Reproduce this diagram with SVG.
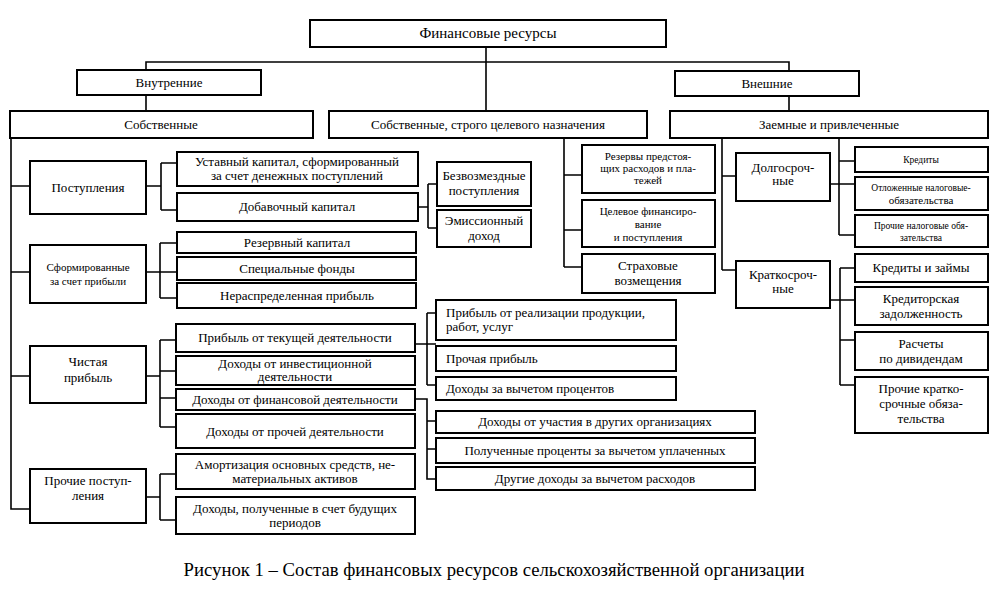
<svg xmlns="http://www.w3.org/2000/svg" width="1000" height="604" viewBox="0 0 1000 604" font-family="'Liberation Serif','Times New Roman',serif">
<style>
.b{fill:#fff;stroke:#000;stroke-width:2}
.c{fill:none;stroke:#000;stroke-width:1.6}
text{font-family:"Liberation Serif","Times New Roman",serif;fill:#000;text-anchor:middle}
.t{font-size:13px}
.s{font-size:11px}
.x{font-size:9.5px}
.l{text-anchor:start}
</style>
<rect width="1000" height="604" fill="#fff"/>
<g id="connectors">
<path class="c" d="M486,47V111M146,70V62H789V71M146,95V111M789,96V111"/>
<path class="c" d="M11,138V509H30M11,186H30M11,272H30M11,376H30"/>
<path class="c" d="M146,186H161M161,163V210M161,163H177M161,210H177"/>
<path class="c" d="M146,272H177M160,243V298M160,243H177M160,298H177"/>
<path class="c" d="M146,376H160M160,340V427M160,340H176M160,371H176M160,398H176M160,427H176"/>
<path class="c" d="M146,497H160M160,474V520M160,474H176M160,520H176"/>
<path class="c" d="M418,207H428M428,184V228M428,184H437M428,228H437"/>
<path class="c" d="M564,138V267M564,175H582M564,230H582M564,267H582"/>
<path class="c" d="M722,138V270M722,176H736M722,270H736"/>
<path class="c" d="M839,138V235M839,161H855M839,235H855M830,184H855"/>
<path class="c" d="M830,300H855M840,268V385M840,268H855M840,340H855M840,385H855"/>
<path class="c" d="M415,344H436M427,313V385M427,313H436M427,385H436"/>
<path class="c" d="M415,399H427V479H436M427,421H436M427,449H436"/>
</g>
<g id="fin"><rect class="b" x="310" y="20" width="356" height="27"/><text x="488" y="38" style="font-size:15px">Финансовые ресурсы</text></g>
<g id="vnutr"><rect class="b" x="77" y="70" width="184" height="25"/><text class="t" x="169" y="87">Внутренние</text></g>
<g id="vnesh"><rect class="b" x="675" y="71" width="184" height="25"/><text class="t" x="767" y="88">Внешние</text></g>
<g id="sobst"><rect class="b" x="10" y="111" width="303" height="27"/><text class="t" x="161" y="129">Собственные</text></g>
<g id="sobst2"><rect class="b" x="329" y="111" width="318" height="27"/><text class="t" x="488" y="129">Собственные, строго целевого назначения</text></g>
<g id="zaem"><rect class="b" x="670" y="111" width="318" height="27"/><text class="t" x="829" y="129">Заемные и привлеченные</text></g>

<g id="postup"><rect class="b" x="30" y="161" width="116" height="53"/><text class="t" x="88" y="192">Поступления</text></g>
<g id="sform"><rect class="b" x="30" y="245" width="116" height="58"/><text class="s" x="88" y="271">Сформированные</text><text class="s" x="88" y="285">за счет прибыли</text></g>
<g id="chist"><rect class="b" x="30" y="346" width="116" height="57"/><text class="t" x="88" y="366">Чистая</text><text class="t" x="88" y="382">прибыль</text></g>
<g id="proch"><rect class="b" x="30" y="469" width="116" height="54"/><text class="t" x="88" y="485">Прочие поступ-</text><text class="t" x="88" y="500">ления</text></g>

<g id="ustav"><rect class="b" x="177" y="152" width="241" height="34"/><text class="t" x="297" y="166">Уставный капитал, сформированный</text><text class="t" x="297" y="180">за счет денежных поступлений</text></g>
<g id="dobav"><rect class="b" x="177" y="193" width="241" height="28"/><text class="t" x="297" y="211">Добавочный капитал</text></g>
<g id="rezerv"><rect class="b" x="177" y="232" width="239" height="21"/><text class="t" x="297" y="247">Резервный капитал</text></g>
<g id="spec"><rect class="b" x="177" y="257" width="239" height="23"/><text class="t" x="297" y="273">Специальные фонды</text></g>
<g id="neraspr"><rect class="b" x="177" y="283" width="239" height="25"/><text class="t" x="297" y="300">Нераспределенная прибыль</text></g>

<g id="pribtek"><rect class="b" x="176" y="324" width="239" height="28"/><text class="t" x="295" y="342">Прибыль от текущей деятельности</text></g>
<g id="dinv"><rect class="b" x="176" y="356" width="239" height="29"/><text class="t" x="295" y="368">Доходы от инвестиционной</text><text class="t" x="295" y="381">деятельности</text></g>
<g id="dfin"><rect class="b" x="176" y="389" width="239" height="21"/><text class="t" x="295" y="404">Доходы от финансовой деятельности</text></g>
<g id="dproch"><rect class="b" x="176" y="414" width="239" height="34"/><text class="t" x="295" y="436">Доходы от прочей деятельности</text></g>
<g id="amort"><rect class="b" x="176" y="454" width="239" height="35"/><text class="t" x="295" y="469">Амортизация основных средств, не-</text><text class="t" x="295" y="483">материальных активов</text></g>
<g id="dbud"><rect class="b" x="176" y="497" width="239" height="37"/><text class="t" x="295" y="513">Доходы, полученные в счет будущих</text><text class="t" x="295" y="527">периодов</text></g>

<g id="bezv"><rect class="b" x="437" y="162" width="94" height="44"/><text class="t" x="484" y="180">Безвозмездные</text><text class="t" x="484" y="195">поступления</text></g>
<g id="emis"><rect class="b" x="437" y="210" width="94" height="37"/><text class="t" x="484" y="225">Эмиссионный</text><text class="t" x="484" y="240">доход</text></g>

<g id="rezpred"><rect class="b" x="582" y="145" width="133" height="48"/><text class="s" x="648" y="160">Резервы предстоя-</text><text class="s" x="648" y="172">щих расходов и пла-</text><text class="s" x="648" y="184">тежей</text></g>
<g id="celev"><rect class="b" x="582" y="200" width="133" height="47"/><text class="s" x="648" y="215">Целевое финансиро-</text><text class="s" x="648" y="228">вание</text><text class="s" x="648" y="241">и поступления</text></g>
<g id="strah"><rect class="b" x="582" y="254" width="133" height="39"/><text class="t" x="648" y="270">Страховые</text><text class="t" x="648" y="285">возмещения</text></g>

<g id="dolg"><rect class="b" x="736" y="153" width="94" height="48"/><text class="t" x="783" y="172">Долгосроч-</text><text class="t" x="783" y="185">ные</text></g>
<g id="krat"><rect class="b" x="736" y="261" width="94" height="47"/><text class="t" x="783" y="279">Краткосроч-</text><text class="t" x="783" y="293">ные</text></g>

<g id="kred"><rect class="b" x="855" y="147" width="133" height="25"/><text class="x" x="921" y="163">Кредиты</text></g>
<g id="otlozh"><rect class="b" x="855" y="177" width="133" height="33"/><text class="x" x="921" y="191">Отложенные налоговые-</text><text class="s" x="921" y="204">обязательства</text></g>
<g id="prnal"><rect class="b" x="855" y="215" width="133" height="32"/><text class="x" x="921" y="229">Прочие налоговые обя-</text><text class="x" x="921" y="241">зательства</text></g>
<g id="kredz"><rect class="b" x="855" y="254" width="133" height="28"/><text class="t" x="921" y="272">Кредиты и займы</text></g>
<g id="kreditor"><rect class="b" x="855" y="287" width="133" height="38"/><text class="t" x="921" y="303">Кредиторская</text><text class="t" x="921" y="318">задолженность</text></g>
<g id="rasch"><rect class="b" x="855" y="332" width="133" height="38"/><text class="t" x="921" y="348">Расчеты</text><text class="t" x="921" y="363">по дивидендам</text></g>
<g id="prkrat"><rect class="b" x="855" y="377" width="133" height="56"/><text class="t" x="921" y="393">Прочие кратко-</text><text class="t" x="921" y="408">срочные обяза-</text><text class="t" x="921" y="423">тельства</text></g>

<g id="pribreal"><rect class="b" x="436" y="300" width="240" height="40"/><text class="t l" x="446" y="317">Прибыль от реализации продукции,</text><text class="t l" x="446" y="331">работ, услуг</text></g>
<g id="prochpr"><rect class="b" x="436" y="346" width="240" height="25"/><text class="t l" x="446" y="363">Прочая  прибыль</text></g>
<g id="dvych"><rect class="b" x="436" y="377" width="240" height="23"/><text class="t l" x="446" y="393">Доходы за вычетом процентов</text></g>
<g id="duch"><rect class="b" x="436" y="411" width="319" height="22"/><text class="t" x="595" y="426">Доходы от участия в других организациях</text></g>
<g id="polproc"><rect class="b" x="436" y="438" width="319" height="25"/><text class="t" x="595" y="455">Полученные проценты за вычетом уплаченных</text></g>
<g id="drug"><rect class="b" x="436" y="467" width="319" height="23"/><text class="t" x="595" y="483">Другие доходы за вычетом расходов</text></g>

<text x="494" y="576" style="font-size:18.7px">Рисунок 1 – Состав финансовых ресурсов сельскохозяйственной организации</text>
</svg>
